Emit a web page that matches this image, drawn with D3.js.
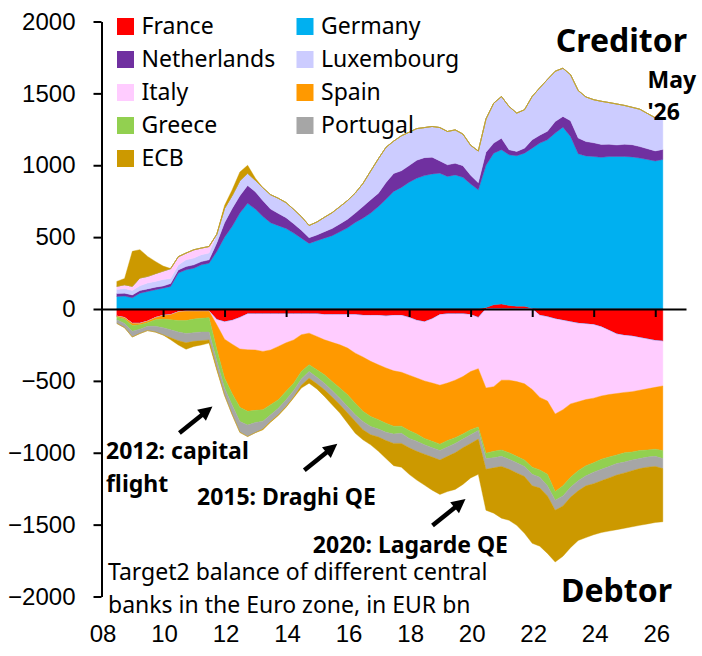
<!DOCTYPE html>
<html>
<head>
<meta charset="utf-8">
<script src="https://cdn.jsdelivr.net/npm/d3@7"></script>
<style>
  body { margin: 0; background: #fff; }
  svg { display: block; }
  .tick text { font-family: "Liberation Sans", Arial, sans-serif; font-size: 24px; fill: #000; }
  .lbl { font-family: "Noto Sans", sans-serif; font-size: 23px; fill: #000; }
  .bold { font-family: "Noto Sans", sans-serif; font-weight: bold; fill: #000; }
</style>
</head>
<body>

<svg id="chart" width="702" height="656"></svg>

<script>
  // Target2 balances in EUR bn, one reading per quarter, May 2008 .. May 2026
  var france = [-50, -60, -100, -100, -85, -60, -45, -40, -20, -15, -15, -15, -15,
    -75, -90, -80, -60, -35, -35, -35, -35, -35, -35, -35, -35, -35, -35, -40, -40, -40, -40,
    -40, -45, -45, -45, -50, -45, -45, -60, -80, -90, -70, -40, -35, -35, -35, -40, -60,
    10, 30, 35, 25, 20, 20, 5, -45, -55, -70, -80, -90, -100,
    -105, -110, -125, -150, -175, -185, -190, -200, -210, -220, -225, -200];
  var germany = [87, 90, 78, 110, 122, 134, 145, 157, 250, 273, 284, 307, 319,
    400, 500, 575, 668, 735, 695, 643, 600, 580, 560, 528, 493, 456, 475, 493, 510, 537, 565,
    602, 632, 667, 713, 764, 818, 846, 882, 910, 928, 940, 945, 922, 933, 916, 870, 829,
    990, 1054, 1073, 1048, 1046, 1064, 1114, 1154, 1177, 1224, 1265, 1200, 1080,
    1065, 1061, 1055, 1061, 1061, 1061, 1058, 1050, 1040, 1030, 1040, 1045];
  var netherlands = [20, 20, 20, 18, 18, 18, 15, 20, 22, 23, 23, 23, 23,
    60, 100, 125, 120, 125, 120, 110, 95, 85, 75, 65, 55, 40, 40, 45, 50, 55, 60,
    65, 81, 93, 93, 116, 125, 116, 116, 125, 125, 116, 85, 81, 81, 81, 60, 50,
    90, 70, 80, 35, 30, 35, 58, 55, 60, 80, 75, 110, 110,
    100, 95, 90, 85, 80, 85, 85, 80, 75, 70, 70, 70];
  var luxembourg = [28, 33, 30, 34, 41, 40, 46, 35, 34, 46, 47, 47, 47,
    60, 100, 90, 105, 85, 80, 90, 100, 105, 105, 100, 95, 85, 90, 100, 110, 120, 130,
    140, 160, 200, 240, 245, 225, 243, 232, 220, 209, 214, 232, 232, 232, 220, 209, 220,
    232, 278, 290, 301, 267, 267, 302, 330, 360, 350, 335, 320, 330,
    310, 300, 300, 290, 285, 270, 260, 260, 245, 230, 215, 215];
  var italy = [23, 26, 30, 54, 46, 54, 58, 69, 58, 47, 58, 47, 46,
    -35, -120, -165, -218, -249, -250, -260, -250, -225, -200, -180, -144, -133, -156, -174, -192, -209, -232,
    -267, -289, -319, -343, -360, -385, -395, -400, -400, -410, -445, -490, -480, -460, -435, -395, -355,
    -550, -540, -495, -495, -505, -520, -560, -570, -585, -660, -620, -570, -545,
    -525, -510, -480, -445, -413, -395, -385, -365, -345, -325, -310, -330];
  var spain = [-5, -10, -15, -10, -10, -15, -25, -35, -60, -65, -55, -50, -45,
    -170, -270, -345, -406, -428, -420, -405, -381, -371, -338, -301, -255, -220, -231, -243, -272, -301, -325,
    -348, -378, -384, -382, -385, -385, -375, -385, -390, -400, -405, -410, -400, -400, -400, -405, -405,
    -453, -450, -485, -505, -520, -530, -540, -505, -510, -540, -530, -510, -480,
    -460, -450, -440, -435, -427, -420, -420, -420, -425, -430, -450, -470];
  var greece = [-20, -30, -40, -30, -25, -45, -60, -70, -80, -90, -95, -95, -100,
    -80, -70, -80, -99, -95, -85, -80, -70, -59, -58, -51, -53, -46, -53, -59, -63, -70, -81,
    -81, -70, -69, -65, -63, -55, -50, -55, -50, -45, -45, -45, -45, -40, -35, -35, -25,
    -37, -45, -45, -45, -45, -45, -50, -50, -80, -60, -70, -70, -70,
    -70, -65, -70, -65, -60, -65, -55, -55, -50, -50, -55, -50];
  var portugal = [-25, -30, -40, -30, -30, -40, -50, -55, -60, -65, -60, -60, -55,
    -55, -50, -65, -75, -80, -70, -55, -46, -46, -47, -46, -44, -47, -45, -46, -46, -46, -46,
    -46, -58, -58, -55, -57, -65, -70, -65, -70, -65, -65, -65, -65, -65, -60, -60, -60,
    -75, -70, -70, -70, -70, -70, -80, -75, -70, -70, -70, -70, -70,
    -70, -80, -80, -80, -80, -75, -75, -70, -70, -70, -70, -70];
  var ecb = [34, 43, 243, 197, 139, 85, 35, -14, -30, -45, -35, -30, -22,
    -10, 20, 40, 60, 55, 15, -5, -5, -5, -5, -5, -19, -35, -36, -46, -53, -58, -70,
    -82, -70, -70, -100, -125, -155, -165, -185, -200, -215, -230, -240, -245, -255, -255, -240, -245,
    -285, -315, -360, -355, -365, -395, -400, -405, -400, -360, -350, -350, -345,
    -360, -355, -360, -370, -380, -385, -390, -395, -395, -390, -370, -358];

  var names = ["France", "Germany", "Netherlands", "Luxembourg", "Italy", "Spain", "Greece", "Portugal", "ECB"];
  var values = [france, germany, netherlands, luxembourg, italy, spain, greece, portugal, ecb];
  var colors = ["#ff0000", "#00b0f0", "#7030a0", "#ccccff", "#ffccff", "#ff9900", "#92d050", "#a6a6a6", "#cc9900"];
  var yTicks = [-2000, -1500, -1000, -500, 0, 500, 1000, 1500, 2000];

  var dates = d3.timeMonth.every(3).range(new Date(2008, 4, 1), new Date(2026, 4, 2));

  var rows = dates.map(function(d, i) {
    var r = { date: d };
    names.forEach(function(n, j) { r[n] = values[j][i]; });
    return r;
  });

  var svg = d3.select('#chart');

  var x = d3.scaleTime()
    .domain([new Date(2008, 0, 1), new Date(2027, 0, 1)])
    .range([101.5, 686]);
  var y = d3.scaleLinear()
    .domain([-2000, 2000])
    .range([596.5, 21.5]);
  var color = d3.scaleOrdinal().domain(names).range(colors);

  // creditors and debtors are stacked apart, in legend order
  var pos = d3.stack().keys(names).value(function(d, k) { return Math.max(0, d[k]); })(rows);
  var neg = d3.stack().keys(names).value(function(d, k) { return Math.min(0, d[k]); })(rows);

  var area = d3.area()
    .x(function(d) { return x(d.data.date); })
    .y0(function(d) { return y(d[0]); })
    .y1(function(d) { return y(d[1]); });

  var layers = svg.append('g');
  [pos, neg].forEach(function(stack) {
    layers.selectAll(null)
      .data(stack)
      .enter()
      .append('path')
      .attr('d', area)
      .attr('fill', function(d) { return color(d.key); })
      .attr('stroke', function(d) { return color(d.key); })
      .attr('stroke-width', 0.4);
  });

  // zero line with year ticks
  var xAxis = svg.append('g')
    .attr('transform', 'translate(0,' + y(0) + ')')
    .call(d3.axisBottom(x).ticks(d3.timeYear.every(2)).tickSize(8).tickSizeOuter(0).tickFormat(''));
  xAxis.selectAll('path, line').attr('stroke', '#000').attr('stroke-width', 2);

  var yAxis = svg.append('g')
    .attr('transform', 'translate(' + x.range()[0] + ',0)')
    .call(d3.axisLeft(y).tickValues(yTicks).tickFormat(d3.format('d'))
      .tickSize(8).tickSizeOuter(0).tickPadding(18));
  yAxis.selectAll('path, line').attr('stroke', '#000').attr('stroke-width', 2);

  // year labels sit at the bottom, not on the zero line
  svg.append('g')
    .selectAll('text')
    .data(x.ticks(d3.timeYear.every(2)).filter(function(d) { return d.getFullYear() <= 2026; }))
    .enter()
    .append('text')
    .attr('x', function(d) { return x(d) + 1.5; })
    .attr('y', 641.5)
    .attr('text-anchor', 'middle')
    .style('font-family', '"Liberation Sans", Arial, sans-serif')
    .style('font-size', '24px')
    .text(d3.timeFormat('%y'));

  // legend, two columns
  var legend = svg.append('g')
    .selectAll('g')
    .data(names)
    .enter()
    .append('g')
    .attr('transform', function(d, i) {
      return 'translate(' + (i % 2 ? 296.5 : 117) + ',' + (18 + 33 * Math.floor(i / 2)) + ')';
    });
  legend.append('rect')
    .attr('width', 17)
    .attr('height', 17)
    .attr('fill', function(d) { return color(d); });
  legend.append('text')
    .attr('class', 'lbl')
    .attr('x', 24.5)
    .attr('y', 15.5)
    .text(function(d) { return d; });

  svg.append('text').attr('class', 'bold').attr('x', 687).attr('y', 52)
    .attr('text-anchor', 'end').style('font-size', '32px').text('Creditor');
  svg.append('text').attr('class', 'bold').attr('x', 672).attr('y', 602)
    .attr('text-anchor', 'end').style('font-size', '32px').text('Debtor');
  svg.append('text').attr('class', 'bold').attr('x', 647.5).attr('y', 88)
    .style('font-size', '23px').text('May');
  svg.append('text').attr('class', 'bold').attr('x', 647.5).attr('y', 120)
    .style('font-size', '23px').text("'26");

  // annotations with arrows pointing at the debtor side
  var notes = [
    { tip: [new Date(2011, 7, 10), -678], lines: ['2012: capital', 'flight'], tx: 106, ty: 459, anchor: 'start' },
    { tip: [new Date(2015, 8, 1), -938], lines: ['2015: Draghi QE'], tx: 197, ty: 505, anchor: 'start' },
    { tip: [new Date(2019, 10, 1), -1322], lines: ['2020: Lagarde QE'], tx: 508, ty: 553, anchor: 'end' }
  ];

  notes.forEach(function(n) {
    var tx = x(n.tip[0]), ty = y(n.tip[1]);
    var dx = 33, dy = -26.5, len = Math.sqrt(dx * dx + dy * dy);
    var ux = dx / len, uy = dy / len;
    var head = 14, half = 7;
    var bx = tx - ux * head, by = ty - uy * head;
    svg.append('line')
      .attr('x1', tx - dx).attr('y1', ty - dy)
      .attr('x2', bx + ux * 2).attr('y2', by + uy * 2)
      .attr('stroke', '#000').attr('stroke-width', 4.5);
    svg.append('path')
      .attr('d', 'M' + tx + ',' + ty +
        'L' + (bx - uy * half) + ',' + (by + ux * half) +
        'L' + (bx + uy * half) + ',' + (by - ux * half) + 'Z')
      .attr('fill', '#000');
    n.lines.forEach(function(t, i) {
      svg.append('text').attr('class', 'bold')
        .attr('x', n.tx).attr('y', n.ty + i * 32.5)
        .attr('text-anchor', n.anchor)
        .style('font-size', '23px')
        .text(t);
    });
  });

  svg.append('text').attr('class', 'lbl').attr('x', 108).attr('y', 580)
    .text('Target2 balance of different central');
  svg.append('text').attr('class', 'lbl').attr('x', 108).attr('y', 613)
    .text('banks in the Euro zone, in EUR bn');
</script>

</body>
</html>
